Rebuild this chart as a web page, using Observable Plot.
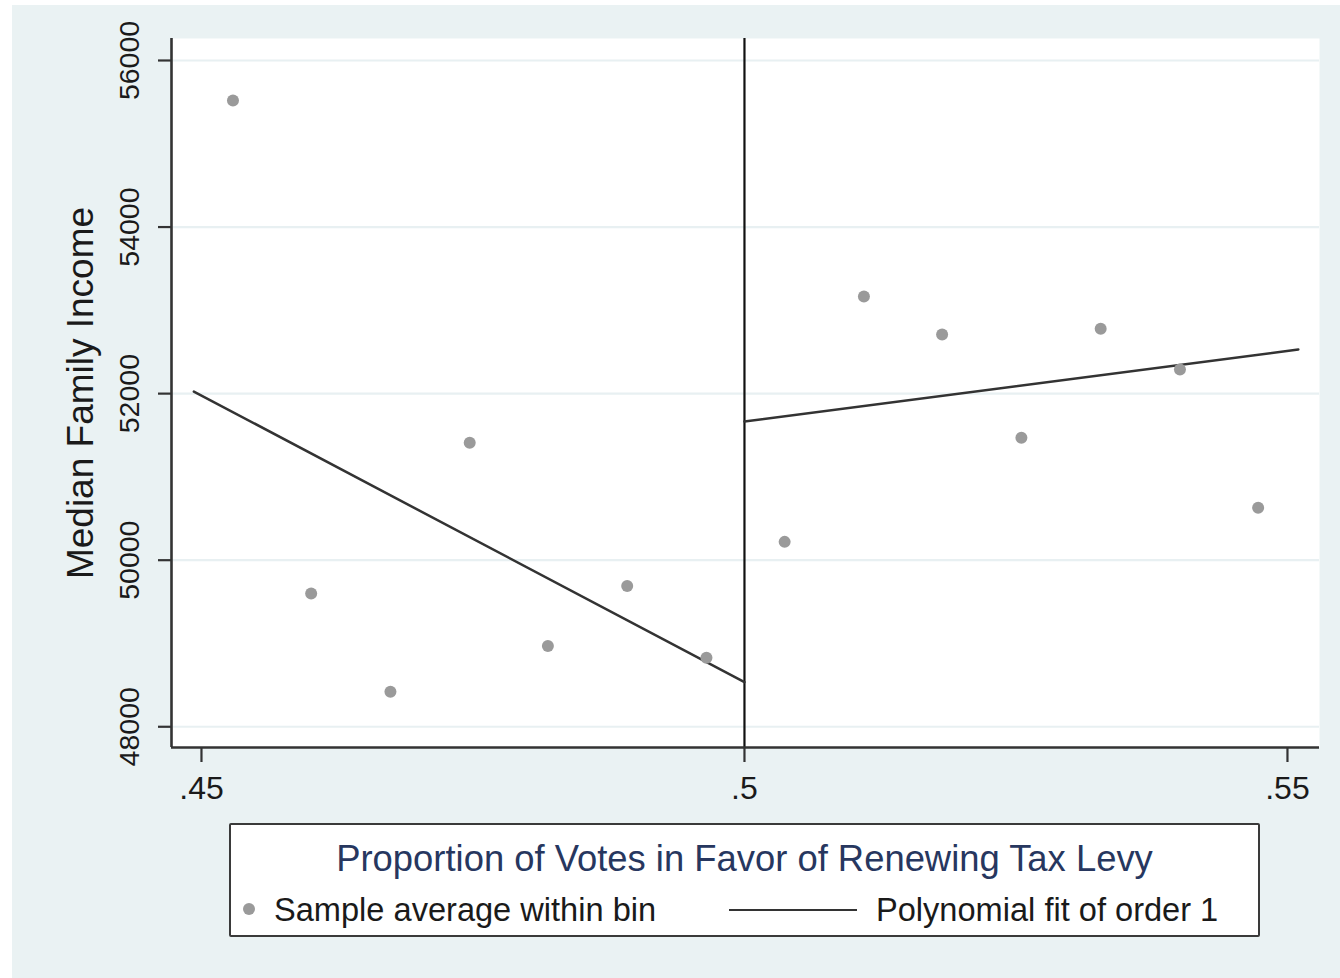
<!DOCTYPE html>
<html>
<head>
<meta charset="utf-8">
<script src="https://cdn.jsdelivr.net/npm/d3@7"></script>
<script src="https://cdn.jsdelivr.net/npm/@observablehq/plot@0.6"></script>
<style>
  html, body { margin: 0; padding: 0; background: #ffffff; }
  body { width: 1340px; height: 978px; position: relative; overflow: hidden; font-family: "Liberation Sans", Arial, sans-serif; }
  #wrap { position: absolute; left: 12px; top: 5px; width: 1328px; height: 973px; background: #eaf2f3; }
  #chart { position: absolute; left: 0; top: 0; }
  #legend { position: absolute; left: 217px; top: 818px; width: 1027px; height: 110px; background: #fff; border: 2.5px solid #3a3a3a; border-radius: 2px; }
  #legend .title { position: absolute; left: 0; right: 0; top: 14px; text-align: center; font-size: 36.4px; line-height: 40px; color: #27375f; }
  #legend .item { position: absolute; top: 66px; font-size: 32.6px; line-height: 38px; color: #1a1a1a; white-space: nowrap; }
  #legend .dot { position: absolute; width: 12px; height: 12px; border-radius: 50%; background: #9a9a9a; }
  #legend .seg { position: absolute; height: 2.4px; background: #333; }
</style>
</head>
<body>
<div id="wrap">
  <div id="chart"></div>
  <div id="legend">
    <div class="title" id="legTitle"></div>
    <div class="dot" style="left:12px; top:78px;"></div>
    <div class="item" id="leg1" style="left:43px;"></div>
    <div class="seg" style="left:498px; width:128px; top:84px;"></div>
    <div class="item" id="leg2" style="left:645px;"></div>
  </div>
</div>
<script>
// ---- data ----
const binX = [0.4529, 0.4601, 0.4674, 0.4747, 0.4819, 0.4892, 0.4965,
              0.5037, 0.5110, 0.5182, 0.5255, 0.5328, 0.5401, 0.5473];
const binY = [55520, 49600, 48420, 51410, 48970, 49690, 48830,
              50220, 53165, 52710, 51470, 52780, 52290, 50630];
const leftFitX = [0.4493, 0.5];
const leftFitY = [52025, 48535];
const rightFitX = [0.5, 0.5510];
const rightFitY = [51665, 52530];
const cutoff = [0.5];
const xTicks = [0.45, 0.5, 0.55];
const xTickLabels = [".45", ".5", ".55"];
const yTicks = [48000, 50000, 52000, 54000, 56000];
const xDomain = [0.44724, 0.55295];
const yDomain = [47751, 56264];
const xTitle = "Proportion of Votes in Favor of Renewing Tax Levy";
const yTitle = "Median Family Income";
const legendLabels = ["Sample average within bin", "Polynomial fit of order 1"];

const points = binX.map((x, i) => ({x, y: binY[i]}));
const leftFit = leftFitX.map((x, i) => ({x, y: leftFitY[i]}));
const rightFit = rightFitX.map((x, i) => ({x, y: rightFitY[i]}));

const font = '"Liberation Sans", Arial, sans-serif';

const chart = Plot.plot({
  width: 1328,
  height: 810,
  marginLeft: 159,
  marginRight: 21,
  marginTop: 33,
  marginBottom: 68,
  style: {background: "transparent", fontFamily: font, color: "#1a1a1a", overflow: "visible"},
  x: {domain: xDomain, axis: null},
  y: {domain: yDomain, axis: null},
  marks: [
    Plot.frame({fill: "#ffffff", stroke: "none"}),
    Plot.ruleY(yTicks, {stroke: "#e8f0f2", strokeWidth: 2.2}),
    Plot.ruleX(cutoff, {stroke: "#111", strokeWidth: 2.2}),
    Plot.line(leftFit, {x: "x", y: "y", stroke: "#333", strokeWidth: 2.5}),
    Plot.line(rightFit, {x: "x", y: "y", stroke: "#333", strokeWidth: 2.5}),
    Plot.dot(points, {x: "x", y: "y", r: 6, fill: "#9a9a9a", stroke: "none"}),
    // axis lines
    Plot.ruleX([xDomain[0]], {stroke: "#333", strokeWidth: 2.6}),
    Plot.ruleY([yDomain[0]], {stroke: "#333", strokeWidth: 2.6}),
    // tick marks
    Plot.ruleY(yTicks, {x1: xDomain[0], x2: xDomain[0], insetLeft: -13, stroke: "#333", strokeWidth: 2.2}),
    Plot.ruleX(xTicks, {y1: yDomain[0], y2: yDomain[0], insetBottom: -15, stroke: "#333", strokeWidth: 2.2}),
    // tick labels
    Plot.text(yTicks, {y: d => d, text: d => String(d), frameAnchor: "left", rotate: -90, dx: -42,
      textAnchor: "middle", lineAnchor: "middle", fontSize: 28.5, fill: "#1a1a1a"}),
    Plot.text(xTicks, {x: d => d, text: (d, i) => xTickLabels[i], frameAnchor: "bottom", dy: 41,
      textAnchor: "middle", lineAnchor: "middle", fontSize: 32, fill: "#1a1a1a"}),
    // y title
    Plot.text([yTitle], {frameAnchor: "left", text: d => d, rotate: -90, dx: -90,
      textAnchor: "middle", lineAnchor: "middle", fontSize: 37, fill: "#1a1a1a"})
  ]
});
document.getElementById("chart").appendChild(chart);
document.getElementById("legTitle").textContent = xTitle;
document.getElementById("leg1").textContent = legendLabels[0];
document.getElementById("leg2").textContent = legendLabels[1];
</script>
</body>
</html>
